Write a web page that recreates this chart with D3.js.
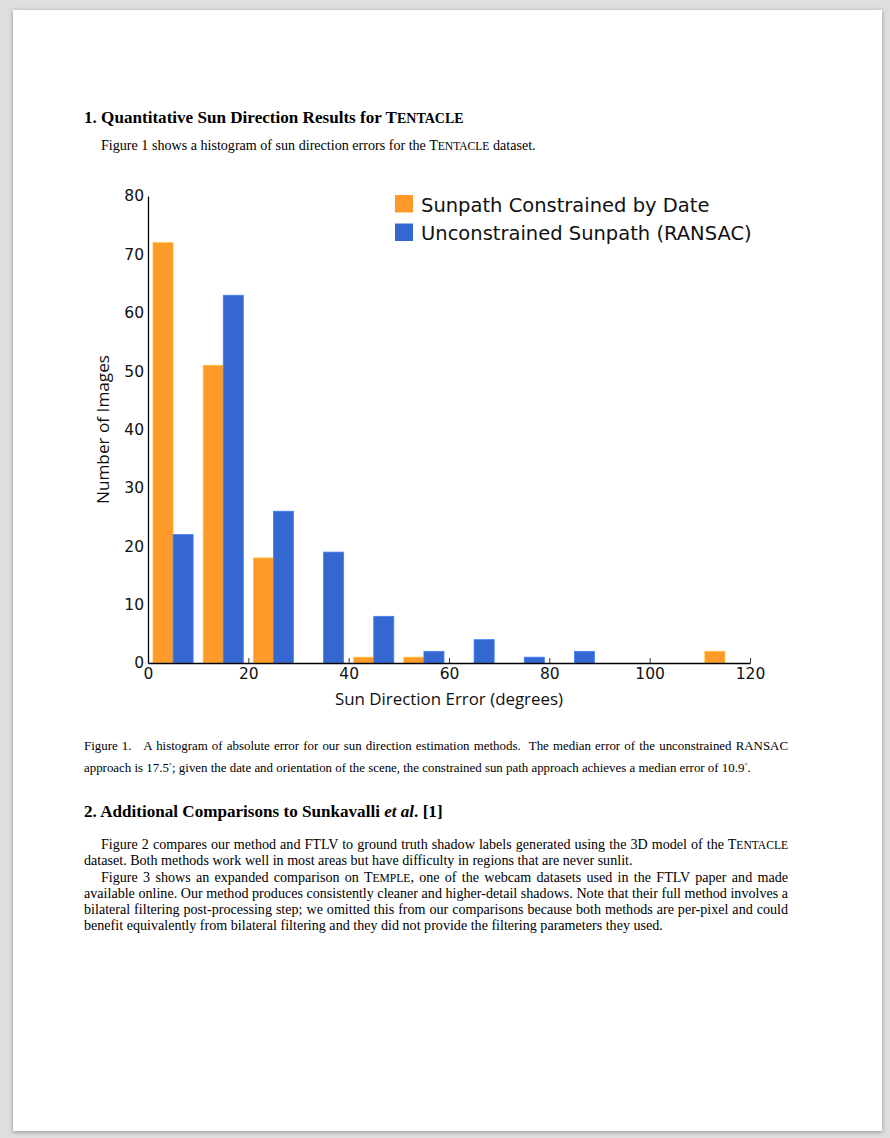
<!DOCTYPE html>
<html>
<head>
<meta charset="utf-8">
<script src="https://cdn.jsdelivr.net/npm/d3@7"></script>
<style>
  html, body { margin: 0; padding: 0; }
  body { width: 890px; height: 1138px; background: #dedede; position: relative; overflow: hidden; }
  #page { position: absolute; left: 13px; top: 10px; width: 869px; height: 1121px; background: #fff;
          box-shadow: 0 1px 4px rgba(0,0,0,0.35); }
  .ln { position: absolute; font-family: "Liberation Serif", "Times New Roman", serif; color: #000;
        white-space: nowrap; font-size: 14.1px; line-height: 16px; }
  .just { white-space: normal; text-align: justify; text-align-last: justify; }
  .h { font-weight: bold; font-size: 17.1px; line-height: 20px; }
  .cap { font-size: 12.9px; line-height: 14px; }
  .sc { font-size: 0.82em; }
  #chart { position: absolute; left: 0; top: 0; }
</style>
</head>
<body>
<div id="page"></div>
<div id="text"></div>
<svg id="chart" width="890" height="1138"></svg>
<script>
// histogram bins (left edge, degrees)
var bin_starts = [0, 10, 20, 30, 40, 50, 60, 70, 80, 90, 100, 110];
var bin_width = 10;
// counts per bin
var constrained_counts = [72, 51, 18, 0, 1, 1, 0, 0, 0, 0, 0, 2];
var ransac_counts = [22, 63, 26, 19, 8, 2, 4, 1, 2, 0, 0, 0];

var series_names = ["Sunpath Constrained by Date", "Unconstrained Sunpath (RANSAC)"];
var series_colors = ["#fd9a2a", "#3567d0"];

var x_ticks = [0, 20, 40, 60, 80, 100, 120];
var y_ticks = [0, 10, 20, 30, 40, 50, 60, 70, 80];

var x_label = "Sun Direction Error (degrees)";
var y_label = "Number of Images";

// page text, line by line: [left, baseline, class, html]
var deg = '<sup style="font-size:9px">◦</sup>';
var text_lines = [
  [84, 124, "h", '1. Quantitative Sun Direction Results for T<span class="sc">ENTACLE</span>'],
  [101, 150, "", 'Figure 1 shows a histogram of sun direction errors for the T<span class="sc">ENTACLE</span> dataset.'],
  [84, 750, "cap just", 'Figure 1.&nbsp;&nbsp; A histogram of absolute error for our sun direction estimation methods.&nbsp; The median error of the unconstrained RANSAC'],
  [84, 768, "cap", 'approach is 17.5' + deg + '; given the date and orientation of the scene, the constrained sun path approach achieves a median error of 10.9' + deg + '.'],
  [84, 818, "h", '2. Additional Comparisons to Sunkavalli <i>et al</i>. [1]'],
  [101, 849, "just", 'Figure 2 compares our method and FTLV to ground truth shadow labels generated using the 3D model of the T<span class="sc">ENTACLE</span>'],
  [84, 865, "", 'dataset. Both methods work well in most areas but have difficulty in regions that are never sunlit.'],
  [101, 882, "just", 'Figure 3 shows an expanded comparison on T<span class="sc">EMPLE</span>, one of the webcam datasets used in the FTLV paper and made'],
  [84, 898, "just", 'available online. Our method produces consistently cleaner and higher-detail shadows. Note that their full method involves a'],
  [84, 914, "just", 'bilateral filtering post-processing step; we omitted this from our comparisons because both methods are per-pixel and could'],
  [84, 930, "", 'benefit equivalently from bilateral filtering and they did not provide the filtering parameters they used.']
];

var text_box = d3.select("#text");
text_lines.forEach(function(l) {
  var cls = l[2];
  // baseline offset from top of line box
  var off = cls.indexOf("h") === 0 ? 15.6 : (cls.indexOf("cap") === 0 ? 11.2 : 12.8);
  text_box.append("div")
    .attr("class", "ln " + cls)
    .style("left", l[0] + "px")
    .style("top", (l[1] - off) + "px")
    .style("width", (788 - l[0]) + "px")
    .html(l[3]);
});

// chart area in page coordinates
var plot = { left: 148, right: 750, top: 196, bottom: 663 };

var svg = d3.select("#chart");

var x_scale = d3.scaleLinear().domain([0, 120]).range([plot.left, plot.right]);
var y_scale = d3.scaleLinear().domain([0, 80]).range([plot.bottom, plot.top]);

// Bars: matplotlib style, 80% of the bin split between the two series
var all_series = [constrained_counts, ransac_counts];
all_series.forEach(function(counts, si) {
  var rows = bin_starts.map(function(b, i) { return { start: b, n: counts[i] }; })
    .filter(function(d) { return d.n > 0; });
  svg.append("g").selectAll("rect")
    .data(rows)
    .enter()
    .append("rect")
    .attr("x", d => x_scale(d.start + bin_width * (0.1 + 0.4 * si)))
    .attr("width", d => x_scale(d.start + bin_width * 0.4) - x_scale(d.start))
    .attr("y", d => y_scale(d.n))
    .attr("height", d => y_scale(0) - y_scale(d.n))
    .attr("fill", series_colors[si])
    .attr("stroke", d3.color(series_colors[si]).brighter(0.6))
    .attr("stroke-width", 0.8);
});

// X axis
var x_axis = svg.append("g")
  .attr("transform", `translate(0, ${plot.bottom})`)
  .call(d3.axisBottom(x_scale).tickValues(x_ticks).tickSize(-5).tickPadding(5).tickSizeOuter(0));
x_axis.select(".domain").attr("stroke", "#000").attr("stroke-width", 1.3);
x_axis.selectAll(".tick line").attr("stroke", "#333").attr("stroke-width", 1);
x_axis.selectAll(".tick text")
  .attr("font-family", "'DejaVu Sans', sans-serif")
  .attr("font-size", 15.5)
  .attr("fill", "#111");

// Y axis
var y_axis = svg.append("g")
  .attr("transform", `translate(${plot.left}, 0)`)
  .call(d3.axisLeft(y_scale).tickValues(y_ticks).tickSize(0).tickPadding(4).tickSizeOuter(0));
y_axis.select(".domain").attr("stroke", "#000").attr("stroke-width", 1.3);
y_axis.selectAll(".tick text")
  .attr("font-family", "'DejaVu Sans', sans-serif")
  .attr("font-size", 15.5)
  .attr("fill", "#111");

// Axis labels
svg.append("text")
  .attr("x", (plot.left + plot.right) / 2)
  .attr("y", 705)
  .attr("text-anchor", "middle")
  .attr("font-family", "'Open Sans', sans-serif")
  .attr("font-size", 16.9)
  .attr("fill", "#111")
  .text(x_label);

svg.append("text")
  .attr("transform", `translate(109, ${(plot.top + plot.bottom) / 2}) rotate(-90)`)
  .attr("text-anchor", "middle")
  .attr("font-family", "'Open Sans', sans-serif")
  .attr("font-size", 17.2)
  .attr("fill", "#111")
  .text(y_label);

// Legend
var legend = svg.append("g").attr("transform", "translate(395, 195)");
series_names.forEach(function(name, i) {
  var row = legend.append("g").attr("transform", `translate(0, ${i * 28.5})`);
  row.append("rect")
    .attr("width", 18).attr("height", 17.5)
    .attr("fill", series_colors[i]);
  row.append("text")
    .attr("x", 26).attr("y", 16.5)
    .attr("font-family", "'DejaVu Sans', sans-serif")
    .attr("font-size", 19.5)
    .attr("fill", "#111")
    .text(name);
});
</script>
</body>
</html>
